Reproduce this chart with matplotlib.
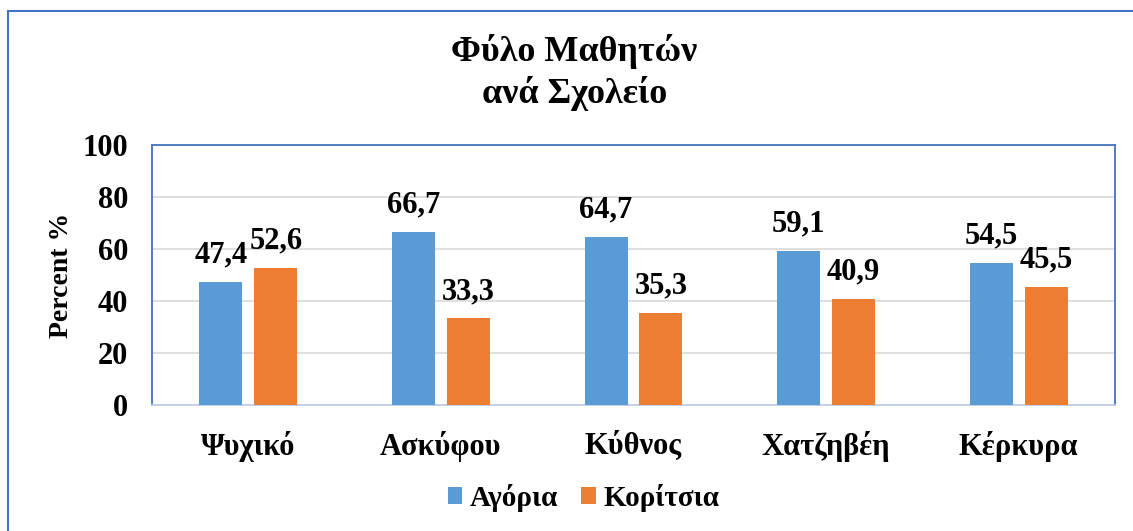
import matplotlib.pyplot as plt
import numpy as np
from matplotlib.patches import Rectangle

plt.rcParams['font.family'] = ['Liberation Serif', 'DejaVu Serif']
plt.rcParams['font.weight'] = 'bold'

# Δεδομένα
schools = ['Ψυχικό', 'Ασκύφου', 'Κύθνος', 'Χατζηβέη', 'Κέρκυρα']
boys = [47.4, 66.7, 64.7, 59.1, 54.5]
girls = [52.6, 33.3, 35.3, 40.9, 45.5]
series_names = ['Αγόρια', 'Κορίτσια']
yticks = [0, 20, 40, 60, 80, 100]

blue = '#5B9BD5'
orange = '#ED7D31'
frame = '#4472C4'

fig = plt.figure(figsize=(11.33, 5.31), dpi=100)
ax = fig.add_axes([0.1342, 0.2373, 0.8499, 0.4896])

# Πλαίσιο γραφήματος
fig.patches.append(Rectangle((8 / 1133, -0.1), 1.2, 1.1 - 11 / 531,
                             transform=fig.transFigure, fill=False,
                             edgecolor=frame, linewidth=1.5))

x = np.arange(len(schools))
w = 0.223
off = w / 2 + 0.031
b1 = ax.bar(x - off, boys, w, color=blue, label=series_names[0], zorder=3)
b2 = ax.bar(x + off, girls, w, color=orange, label=series_names[1], zorder=3)

for bars, vals in ((b1, boys), (b2, girls)):
    for r, v in zip(bars, vals):
        ax.annotate(f'{v:.1f}'.replace('.', ','),
                    (r.get_x() + r.get_width() / 2, v),
                    xytext=(0, 9), textcoords='offset points',
                    ha='center', va='bottom', fontsize=22, fontweight='bold')

ax.set_xlim(-0.5, len(schools) - 0.5)
ax.set_ylim(0, 100)
ax.set_yticks(yticks)
ax.set_yticklabels([str(t) for t in yticks], fontsize=22, fontweight='bold')
ax.set_xticks(x)
ax.set_xticklabels(schools, fontsize=22, fontweight='bold')
ax.tick_params(axis='both', length=0)
ax.tick_params(axis='x', pad=19)
ax.tick_params(axis='y', pad=17)
ax.yaxis.grid(True, color='#D9D9D9', linewidth=1.2, zorder=0)
ax.set_axisbelow(True)
for s in ax.spines.values():
    s.set_color(frame)
    s.set_linewidth(1.3)
ax.spines['bottom'].set_color('#BFCDE8')

ax.set_ylabel('Percent %', fontsize=20, fontweight='bold', labelpad=6)

fig.text(0.507, 0.863, 'Φύλο Μαθητών\nανά Σχολείο', ha='center', va='center',
         fontsize=26, fontweight='bold', linespacing=1.25)

fig.legend(loc='center', bbox_to_anchor=(0.515, 0.063), ncol=2, frameon=False,
           prop={'size': 21, 'weight': 'bold'}, handlelength=0.5,
           handleheight=0.5, handletextpad=0.25, columnspacing=0.8)

fig.savefig('out.png', dpi=100)
